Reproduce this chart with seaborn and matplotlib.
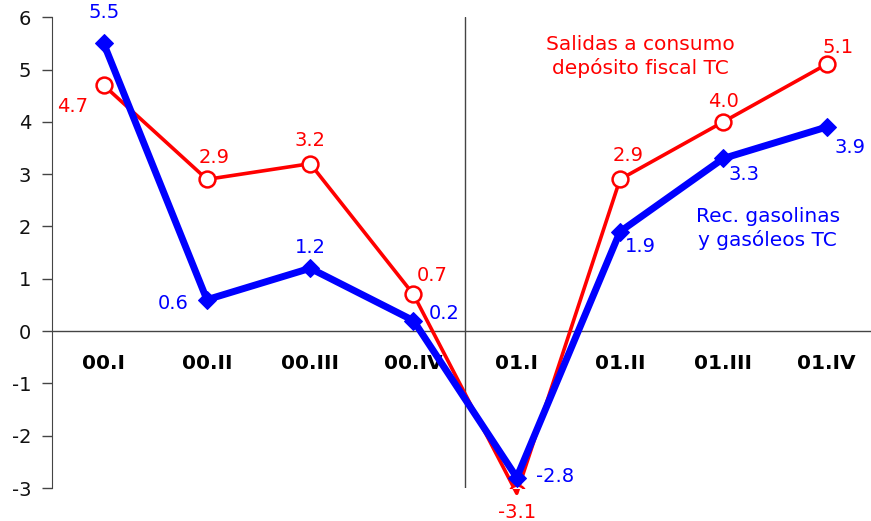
import matplotlib
matplotlib.use("Agg")
import matplotlib.pyplot as plt
import seaborn as sns
import pandas as pd

quarters = ["00.I", "00.II", "00.III", "00.IV", "01.I", "01.II", "01.III", "01.IV"]
rec_gasolinas = [5.5, 0.6, 1.2, 0.2, -2.8, 1.9, 3.3, 3.9]
salidas_consumo = [4.7, 2.9, 3.2, 0.7, -3.1, 2.9, 4.0, 5.1]

# label offsets in pixels, per point
blue_offsets = [(0, 31), (-34, -4), (0, 21), (31, 7), (38, 1), (20, -15), (21, -16), (23, -20)]
red_offsets = [(-31, -21), (7, 22), (0, 23), (19, 19), (0, -19), (8, 24), (0, 20), (11, 17)]

sns.set_style("white")
plt.rcParams["font.family"] = ["DejaVu Sans"]
plt.rcParams["axes.unicode_minus"] = False

df = pd.DataFrame({
    "pos": range(len(quarters)),
    "rec": rec_gasolinas,
    "sal": salidas_consumo,
})

fig = plt.figure(figsize=(8.71, 5.21), dpi=100)
ax = fig.add_axes([0.0597, 0.0633, 0.9403, 0.9037])

ax.axhline(0, color="#444444", lw=1, zorder=1)
ax.axvline(3.5, color="#444444", lw=1, zorder=1)

# red series: line may run below the axis, markers are clipped
sns.lineplot(data=df, x="pos", y="sal", ax=ax, color="#ff0000", lw=2.6,
             zorder=3, clip_on=False)
sns.scatterplot(data=df, x="pos", y="sal", ax=ax, marker="o", s=130,
                facecolor="white", edgecolor="#ff0000", linewidth=1.8, zorder=3)
sns.lineplot(data=df, x="pos", y="rec", ax=ax, color="#0000ff", lw=5,
             marker="D", markersize=9, markeredgecolor="#0000ff", zorder=4, clip_on=False)

for i, v in enumerate(rec_gasolinas):
    ax.annotate(f"{v:.1f}", (i, v), xytext=blue_offsets[i], textcoords="offset pixels",
                ha="center", va="center", color="#0000ff", fontsize=14, zorder=5,
                annotation_clip=False)
for i, v in enumerate(salidas_consumo):
    ax.annotate(f"{v:.1f}", (i, v), xytext=red_offsets[i], textcoords="offset pixels",
                ha="center", va="center", color="#ff0000", fontsize=14, zorder=5,
                annotation_clip=False)

for i, q in enumerate(quarters):
    ax.text(i, -0.62, q, ha="center", va="center", fontsize=14.5, fontweight="bold", color="black")

ax.text(5.2, 5.25, "Salidas a consumo\ndepósito fiscal TC", ha="center", va="center",
        color="#ff0000", fontsize=14.5, linespacing=1.3)
ax.text(6.43, 1.96, "Rec. gasolinas\ny gasóleos TC", ha="center", va="center",
        color="#0000ff", fontsize=14.5, linespacing=1.3)

ax.set_xlim(-0.5, 7.43)
ax.set_ylim(-3, 6)
ax.set_yticks(range(-3, 7))
ax.set_xticks([])
ax.set_xlabel("")
ax.set_ylabel("")
ax.tick_params(axis="y", direction="out", length=7, width=1, color="#444444",
               labelsize=14, pad=8, left=True, labelcolor="#111111")
for side in ["top", "right", "bottom"]:
    ax.spines[side].set_visible(False)
ax.spines["left"].set_color("#444444")
ax.patch.set_alpha(0)

fig.savefig("out.png", dpi=100)
